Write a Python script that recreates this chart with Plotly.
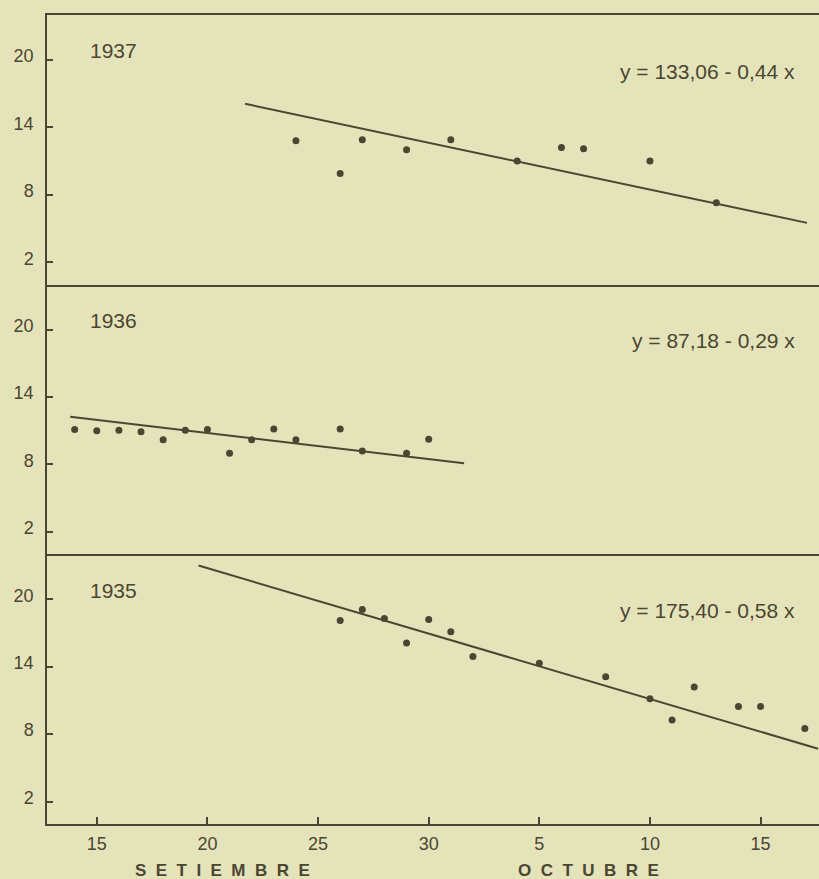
import plotly.graph_objects as go
from plotly.subplots import make_subplots

# Day axis: September d -> d, October d -> 30 + d
tick_vals = [15, 20, 25, 30, 35, 40, 45]
tick_text = ["15", "20", "25", "30", "5", "10", "15"]
y_ticks = [2, 8, 14, 20]

years = ["1937", "1936", "1935"]
equations = ["y = 133,06 - 0,44 x", "y = 87,18 - 0,29 x", "y = 175,40 - 0,58 x"]

days_1937 = [24, 26, 27, 29, 31, 34, 36, 37, 40, 43]
vals_1937 = [12.8, 9.9, 12.9, 12.0, 12.9, 11.0, 12.2, 12.1, 11.0, 7.3]
trend_x_1937 = [21.7, 47.1]
trend_y_1937 = [16.1, 5.5]

days_1936 = [14, 15, 16, 17, 18, 19, 20, 21, 22, 23, 24, 26, 27, 29, 30]
vals_1936 = [11.1, 11.0, 11.05, 10.9, 10.2, 11.05, 11.1, 9.0, 10.2, 11.15, 10.2, 11.15, 9.2, 9.0, 10.25]
trend_x_1936 = [13.8, 31.6]
trend_y_1936 = [12.25, 8.1]

days_1935 = [26, 27, 28, 29, 30, 31, 32, 35, 38, 40, 41, 42, 44, 45, 47]
vals_1935 = [18.1, 19.1, 18.3, 16.1, 18.2, 17.1, 14.9, 14.3, 13.1, 11.15, 9.25, 12.2, 10.45, 10.45, 8.5]
trend_x_1935 = [19.6, 47.6]
trend_y_1935 = [23.0, 6.7]

series = [
    (days_1937, vals_1937, trend_x_1937, trend_y_1937),
    (days_1936, vals_1936, trend_x_1936, trend_y_1936),
    (days_1935, vals_1935, trend_x_1935, trend_y_1935),
]

INK = "#4b4631"
BG = "#e5e3ba"
FONT = "Liberation Sans"

fig = make_subplots(rows=3, cols=1, shared_xaxes=True, vertical_spacing=0)

for i, (dx, dy, tx, ty) in enumerate(series, start=1):
    fig.add_trace(go.Scatter(x=tx, y=ty, mode="lines",
                             line=dict(color=INK, width=2), showlegend=False,
                             hoverinfo="skip"), row=i, col=1)
    fig.add_trace(go.Scatter(x=dx, y=dy, mode="markers",
                             marker=dict(color=INK, size=7), showlegend=False),
                  row=i, col=1)
    xr = "x" if i == 1 else f"x{i}"
    yr = "y" if i == 1 else f"y{i}"
    fig.add_annotation(x=14.6, y=20.8, xref=xr, yref=yr, text=years[i - 1],
                       showarrow=False, xanchor="left", yanchor="middle",
                       font=dict(family=FONT, size=21, color=INK))
    fig.add_annotation(x=46.65, y=19.0, xref=xr, yref=yr, text=equations[i - 1],
                       showarrow=False, xanchor="right", yanchor="middle",
                       font=dict(family=FONT, size=21, color=INK))

for i in range(1, 4):
    fig.update_yaxes(range=[0, 24], tickvals=y_ticks, ticks="inside", ticklen=6,
                     tickcolor=INK, tickwidth=1.5, showline=True, linecolor=INK,
                     linewidth=1.5, showgrid=False, zeroline=False,
                     ticklabelstandoff=8, ticklabelshift=-4,
                     tickfont=dict(family=FONT, size=18, color=INK),
                     row=i, col=1)
    fig.update_xaxes(range=[12.75, 47.64], tickvals=tick_vals, ticktext=tick_text,
                     showline=True, mirror=(i == 1), linecolor=INK, linewidth=1.5,
                     showgrid=False, zeroline=False,
                     ticks="inside" if i == 3 else "", ticklen=7, tickcolor=INK,
                     tickwidth=1.5, showticklabels=(i == 3), ticklabelstandoff=3,
                     tickfont=dict(family=FONT, size=18, color=INK),
                     row=i, col=1)

nb = "\u00a0"
fig.add_annotation(x=20.66, y=-0.057, xref="x3", yref="paper",
                   text=(nb * 2).join("SETIEMBRE"), showarrow=False,
                   xanchor="center", yanchor="middle",
                   font=dict(family=FONT, size=17, color=INK, weight="bold"))
fig.add_annotation(x=37.2, y=-0.057, xref="x3", yref="paper",
                   text=(nb * 2).join("OCTUBRE"), showarrow=False,
                   xanchor="center", yanchor="middle",
                   font=dict(family=FONT, size=17, color=INK, weight="bold"))

fig.update_layout(width=819, height=879, paper_bgcolor=BG, plot_bgcolor=BG,
                  margin=dict(l=47, r=0, t=15, b=55), showlegend=False)

fig.write_html("out.html", config={"displayModeBar": False},
               post_script="document.body.style.margin='0';"
                           "document.body.style.background='" + BG + "';")
